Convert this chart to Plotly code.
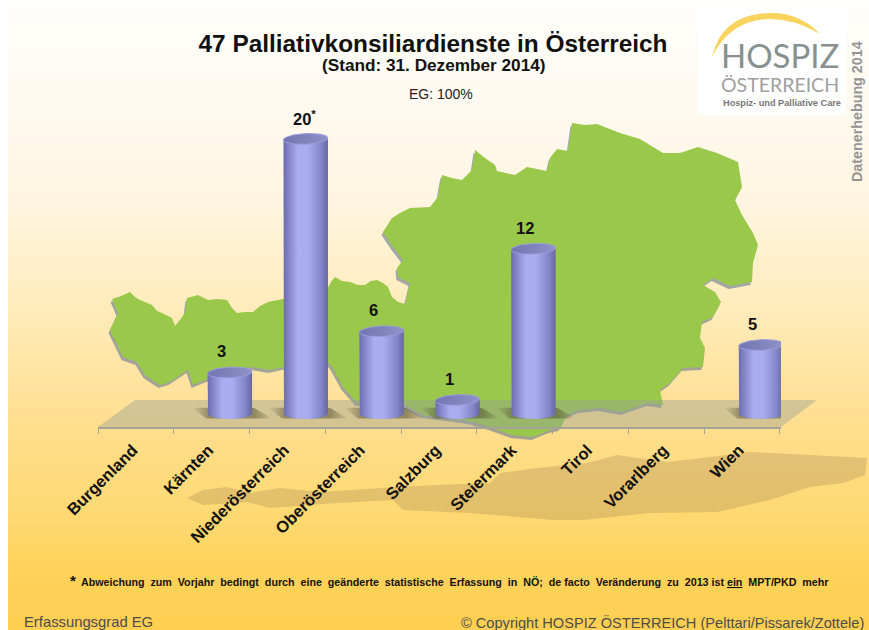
import numpy as np
import plotly.graph_objects as go

# ---- data ----
categories = ["Burgenland", "Kärnten", "Niederösterreich", "Oberösterreich", "Salzburg",
              "Steiermark", "Tirol", "Vorarlberg", "Wien"]
values = [0, 3, 20, 6, 1, 12, 0, 0, 5]
value_labels = ["", "3", "20<sup>*</sup>", "6", "1", "12", "", "", "5"]

# ---- page geometry ----
W, H = 869, 630
L, R, T, B = 98, 88, 90, 203
PW, PH = W - L - R, H - T - B
Y0_PX = 413.7          # pixel row of value 0 on the floor
PX_PER_UNIT = 13.74
Y_LOW = -(H - B - Y0_PX) / PX_PER_UNIT
Y_HIGH = (Y0_PX - T) / PX_PER_UNIT
SHIFT = 0.237          # 3D depth shift of the cylinders, in category units
HALF_W = 0.293
RY = 5.3 / PX_PER_UNIT


def xp(x):
    return (x - L) / PW


def yp(y):
    return (H - B - y) / PH


def poly(points, dx=0, dy=0):
    return "M " + " L ".join(f"{xp(x + dx):.5f} {yp(y + dy):.5f}" for x, y in points) + " Z"


def rect(x0, y0, x1, y1, color):
    return dict(type="rect", xref="paper", yref="paper", layer="below", x0=xp(x0), x1=xp(x1),
                y0=yp(y0), y1=yp(y1), fillcolor=color, line=dict(width=0))


def path(d, color):
    return dict(type="path", xref="paper", yref="paper", layer="below", path=d,
                fillcolor=color, line=dict(width=0))


# ---- decorative backdrop outlines (pixel positions) ----
austria_outline = [
    (112, 299), (121, 296), (130, 292), (135, 297), (140, 300), (152, 305), (157, 311), (162, 313),
    (172, 318), (175, 326), (180, 320), (185, 313), (187, 298), (198, 295), (208, 300), (218, 299),
    (227, 300), (232, 308), (237, 313), (245, 312), (253, 312), (260, 306), (268, 302), (283, 299),
    (328, 288), (331, 282), (335, 277), (342, 281), (350, 282), (358, 285), (365, 285), (371, 281),
    (377, 280), (383, 283), (388, 287), (392, 297), (398, 302), (405, 304), (408, 292), (410, 283),
    (398, 277), (397, 268), (403, 260), (393, 247), (383, 232), (392, 218), (400, 213), (410, 208),
    (430, 207), (438, 197), (440, 185), (442, 175), (452, 178), (462, 180), (472, 170), (475, 150),
    (485, 158), (495, 165), (497, 171), (515, 175), (527, 167), (547, 171), (550, 158), (557, 149),
    (568, 151), (572, 123), (585, 125), (597, 124), (620, 133), (640, 139), (663, 153), (680, 153),
    (698, 147), (717, 153), (738, 162), (742, 187), (735, 200), (742, 215), (753, 233), (758, 245),
    (753, 263), (752, 282), (730, 286), (713, 278), (703, 285), (715, 292), (721, 302), (713, 317),
    (702, 322), (700, 338), (705, 348), (703, 367), (683, 368), (670, 383), (660, 390), (663, 405),
    (648, 403), (622, 412), (600, 408), (580, 410), (567, 415), (560, 428), (550, 430), (533, 437),
    (512, 435), (490, 427), (473, 422), (463, 420), (423, 415), (405, 405), (357, 403), (343, 387),
    (332, 367), (328, 362), (283, 367), (270, 370), (253, 367), (225, 372), (193, 385), (188, 370),
    (170, 382), (160, 385), (145, 375), (137, 362), (123, 357), (110, 330), (118, 313),
]
ground_shadow_outline = [
    (187, 498), (203, 490), (227, 487), (250, 493), (280, 488), (320, 492), (383, 488), (437, 485),
    (490, 483), (500, 473), (537, 468), (587, 463), (617, 455), (667, 462), (710, 457), (750, 452),
    (810, 455), (867, 458), (865, 475), (843, 483), (810, 487), (770, 500), (717, 512), (650, 513),
    (583, 520), (553, 520), (470, 513), (403, 510), (393, 500), (337, 503), (270, 508), (247, 502),
    (203, 505),
]
floor_outline = [(98, 427), (135, 400), (817, 400), (781, 427)]
gradient_stops = [(0, (255, 255, 252)), (100, (255, 250, 241)), (200, (255, 245, 225)),
                  (300, (255, 236, 190)), (430, (255, 222, 140)), (520, (255, 216, 112)),
                  (570, (255, 210, 90)), (630, (254, 207, 80))]

shapes = []
ys = [s[0] for s in gradient_stops]
for y in range(0, H, 4):
    c = [int(round(np.interp(y + 2, ys, [s[1][k] for s in gradient_stops]))) for k in range(3)]
    shapes.append(rect(8, y, W, y + 4.5, f"rgb({c[0]},{c[1]},{c[2]})"))
shapes.append(path(poly(ground_shadow_outline), "rgba(100,80,60,0.19)"))
shapes.append(path(poly(austria_outline, dx=-1.5, dy=3), "rgba(125,135,150,0.7)"))
shapes.append(path(poly(austria_outline), "#9ac84b"))
shapes.append(path(poly(floor_outline), "rgba(150,160,150,0.42)"))
shapes.append(rect(698, 8, 846, 115, "#ffffff"))
arc = ("M {} {} Q {} {} {} {} Q {} {} {} {} Q {} {} {} {} Q {} {} {} {} Z").format(
    xp(712), yp(57), xp(722), yp(13), xp(772), yp(13), xp(800), yp(13), xp(820), yp(34),
    xp(795), yp(19), xp(770), yp(19), xp(730), yp(20), xp(712), yp(57))
shapes.append(path(arc, "#f8d35e"))

fig = go.Figure()
fig.add_bar(x=categories, y=values, marker=dict(color="#a8abee", line=dict(width=0)),
            width=2 * HALF_W - 0.03, offset=SHIFT - HALF_W + 0.015, showlegend=False, hoverinfo="x+y")

t = np.linspace(0, 2 * np.pi, 61)
arc_t = np.linspace(0, np.pi, 31)
body_scale = [[0, "#6a6cab"], [0.1, "#7f81c4"], [0.33, "#aaadf0"], [0.55, "#a9acef"],
              [0.85, "#8285c8"], [1, "#66689f"]]
cap_scale = [[0, "#7476b2"], [0.5, "#8082bc"], [1, "#9092ca"]]
shade_scale = [[0, "rgba(80,75,45,0)"], [0.22, "rgba(80,75,45,0.5)"],
               [0.78, "rgba(80,75,45,0.5)"], [1, "rgba(80,75,45,0)"]]
for i, v in enumerate(values):
    if v == 0:
        continue
    c = i + SHIFT
    # cast shadow on the floor
    sx = [c - HALF_W - 0.2, c + HALF_W + 0.02, c + HALF_W + 0.27, c - HALF_W - 0.02]
    sy = [-RY * 0.9, -RY * 0.9, RY * 1.1, RY * 1.1]
    fig.add_scatter(x=sx, y=sy[::-1], xaxis="x2", mode="lines", fill="toself", line=dict(width=0),
                    fillgradient=dict(type="horizontal", colorscale=shade_scale),
                    showlegend=False, hoverinfo="skip")
    # cylinder body with a rounded lower edge
    bx = np.concatenate([[c - HALF_W], c - HALF_W * np.cos(arc_t), [c + HALF_W]])
    by = np.concatenate([[v], -RY * np.sin(arc_t), [v]])
    fig.add_scatter(x=bx, y=by, xaxis="x2", mode="lines", fill="toself", line=dict(width=0),
                    fillgradient=dict(type="horizontal", colorscale=body_scale),
                    showlegend=False, hoverinfo="skip")
    # cylinder cap, slightly tilted
    cx = c + HALF_W * np.cos(t)
    cy = v + RY * np.sin(t) + RY * 0.18 * np.cos(t)
    fig.add_scatter(x=cx, y=cy, xaxis="x2", mode="lines", fill="toself",
                    line=dict(width=1, color="#9a9cdc"),
                    fillgradient=dict(type="horizontal", colorscale=cap_scale),
                    showlegend=False, hoverinfo="skip")

annotations = []
for i, (v, lab) in enumerate(zip(values, value_labels)):
    if lab:
        annotations.append(dict(x=i + 0.13, y=v, xref="x2", yref="y", yshift=21,
                                xshift=7 if "<sup>" in lab else 0, text=lab,
                                showarrow=False, xanchor="center", yanchor="middle",
                                font=dict(family="Liberation Sans", size=16.5, color="#111111", weight=700)))


def note(x, y, text, size, color="#111111", weight=400, anchor="center", angle=0,
         family="Liberation Sans"):
    annotations.append(dict(x=xp(x), y=yp(y), xref="paper", yref="paper", text=text, showarrow=False,
                            xanchor=anchor, yanchor="middle", textangle=angle, borderpad=0,
                            font=dict(family=family, size=size, color=color, weight=weight)))


n = "\u00a0"
note(434, 65, "(Stand: 31. Dezember 2014)", 17.2, weight=700)
note(441, 94, "EG: 100%", 14, color="#222222")
note(69, 580, "*", 15, weight=700, anchor="left")
note(80, 582,
     f"Abweichung{n} zum{n} Vorjahr{n} bedingt{n} durch{n} eine{n} geänderte{n} statistische{n} "
     f"Erfassung{n} in{n} NÖ;{n} de{n}facto{n} Veränderung{n} zu{n} 2013{n}ist{n}<u>ein</u>{n} MPT/PKD{n} mehr",
     10.7, weight=700, anchor="left")
note(23, 622, "Erfassungsgrad EG", 14.8, color="#4d4d4d", anchor="left")
note(865, 622, "© Copyright HOSPIZ ÖSTERREICH (Pelttari/Pissarek/Zottele)", 14.6, color="#4d4d4d", anchor="right")
note(857, 111, "Datenerhebung 2014", 14.3, color="#949494", weight=700, angle=-90)
note(780, 55, "HOSPIZ", 33, color="#87918f", family="Lato")
note(780, 84, "ÖSTERREICH", 19.5, color="#a0a0a0", family="Lato")
note(782, 103, "Hospiz- und Palliative Care", 9.2, color="#777777", weight=700)

fig.update_layout(
    width=W, height=H, margin=dict(l=L, r=R, t=T, b=B, pad=0), autosize=False,
    paper_bgcolor="#ffffff", plot_bgcolor="rgba(0,0,0,0)", barmode="overlay", showlegend=False,
    title=dict(text="47 Palliativkonsiliardienste in Österreich", x=433 / W, y=1 - 43 / H,
               xanchor="center", yanchor="middle", xref="container", yref="container",
               font=dict(family="Liberation Sans", size=24.4, color="#111111", weight=700)),
    xaxis=dict(type="category", tickson="boundaries", tickangle=-45, ticks="outside",
               ticklen=5, tickwidth=1, tickcolor="#a5a29a", showline=True, linecolor="#a5a29a", linewidth=2,
               showgrid=False, zeroline=False, automargin=False, ticklabelstandoff=5, ticklabelshift=-3,
               tickfont=dict(family="Liberation Sans", size=16.5, color="#111111", weight=700)),
    xaxis2=dict(overlaying="x", anchor="y", range=[-0.5, 8.5], visible=False, showgrid=False, zeroline=False),
    yaxis=dict(range=[Y_LOW, Y_HIGH], visible=False, showgrid=False, zeroline=False),
    shapes=shapes, annotations=annotations,
)

fig.write_html("out.html", config={"displayModeBar": False},
               post_script="document.body.style.margin='0';document.body.style.overflow='hidden';")
